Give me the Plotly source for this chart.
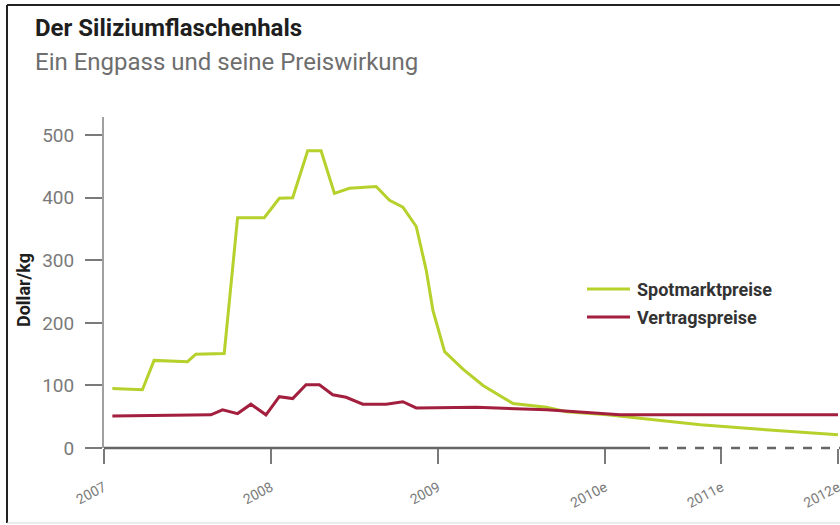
import plotly.graph_objects as go

# --- data -------------------------------------------------------------
# time in decimal years; 2010 onward are estimates ("e")
spot_t = [2007.05, 2007.23, 2007.30, 2007.50, 2007.55, 2007.72, 2007.80, 2007.96,
          2008.05, 2008.13, 2008.22, 2008.30, 2008.38, 2008.47, 2008.63, 2008.71,
          2008.79, 2008.87, 2008.93, 2008.97, 2009.04, 2009.15, 2009.27, 2009.45,
          2009.65, 2009.77, 2010.02, 2010.42, 2010.82, 2011.33, 2012.00]
spot_price = [95, 93, 140, 138, 150, 151, 368, 368,
              399, 400, 475, 475, 407, 415, 418, 396,
              385, 354, 284, 220, 154, 126, 100, 71,
              65, 58, 53, 45, 37, 30, 21]

contract_t = [2007.05, 2007.64, 2007.71, 2007.80, 2007.88, 2007.97, 2008.05, 2008.13,
              2008.21, 2008.29, 2008.37, 2008.45, 2008.55, 2008.69, 2008.79, 2008.87,
              2009.23, 2009.65, 2010.13, 2012.00]
contract_price = [51, 53, 61, 55, 70, 53, 82, 79,
                  101, 101, 85, 81, 70, 70, 74, 64,
                  65, 61, 53, 53]

tick_years = [2007, 2008, 2009, 2010, 2011, 2012]
tick_labels = ["2007", "2008", "2009", "2010e", "2011e", "2012e"]

series_names = ["Spotmarktpreise", "Vertragspreise"]
GREEN = "#b6d02c"
RED = "#a21f3e"
GREY = "#7a7a7a"

# forecast years are drawn on a compressed scale
FORECAST_SCALE = 0.698
FORECAST_FROM = 2010.31   # axis turns dashed from here on


def axis_pos(t):
    if t <= 2010:
        return t - 2007
    return 3 + (t - 2010) * FORECAST_SCALE


# --- layout geometry (pixels of the 840x525 page) ----------------------
W, H = 840, 525
L, R, T, B = 104, 2, 117, 77
PW, PH = W - L - R, H - T - B


def px(x):
    return (x - L) / PW


def py(y):
    return (H - B - y) / PH


x_end = axis_pos(2012)

fig = go.Figure()
fig.add_trace(go.Scatter(
    x=[axis_pos(t) for t in spot_t], y=spot_price, mode="lines",
    name=series_names[0], line=dict(color=GREEN, width=3), showlegend=False))
fig.add_trace(go.Scatter(
    x=[axis_pos(t) for t in contract_t], y=contract_price, mode="lines",
    name=series_names[1], line=dict(color=RED, width=3), showlegend=False))

fig.update_layout(
    width=W, height=H,
    margin=dict(l=L, r=R, t=T, b=B, autoexpand=False),
    paper_bgcolor="white", plot_bgcolor="white",
    xaxis=dict(
        range=[0, x_end], showgrid=False, zeroline=False, showline=False,
        tickmode="array", tickvals=[axis_pos(y) for y in tick_years],
        ticktext=tick_labels, ticks="outside", ticklen=15, tickwidth=2,
        tickcolor=GREY, tickangle=-28, ticklabelstandoff=10,
        ticklabeloverflow="allow",
        tickfont=dict(family="Roboto", size=14, color=GREY),
    ),
    yaxis=dict(
        range=[0, 529], showgrid=False, zeroline=False,
        showline=True, linecolor="#a0a0a0", linewidth=2,
        tickvals=[0, 100, 200, 300, 400, 500], ticks="outside", ticklen=17,
        tickwidth=2, tickcolor=GREY, ticklabelstandoff=7,
        tickfont=dict(family="Roboto", size=19, color=GREY),
    ),
)

x_split = axis_pos(FORECAST_FROM) / x_end
shapes = [
    # x axis: solid for actual data, dashed for the forecast part
    dict(type="line", xref="paper", yref="paper", x0=0, x1=x_split,
         y0=0, y1=0, line=dict(color="#666", width=2.5)),
    dict(type="line", xref="paper", yref="paper", x0=x_split, x1=1.01,
         y0=0, y1=0, line=dict(color="#666", width=2.5, dash="dash")),
    # frame around the graphic
    dict(type="line", xref="paper", yref="paper", x0=px(7), x1=px(7),
         y0=py(5), y1=py(523), line=dict(color="#222", width=2)),
    dict(type="line", xref="paper", yref="paper", x0=px(7), x1=px(845),
         y0=py(5), y1=py(5), line=dict(color="#222", width=2)),
    dict(type="line", xref="paper", yref="paper", x0=px(7), x1=px(845),
         y0=py(523), y1=py(523), line=dict(color="#d8d8d8", width=1)),
    # legend keys
    dict(type="line", xref="paper", yref="paper", x0=px(587), x1=px(630),
         y0=py(289), y1=py(289), line=dict(color=GREEN, width=3)),
    dict(type="line", xref="paper", yref="paper", x0=px(587), x1=px(630),
         y0=py(317), y1=py(317), line=dict(color=RED, width=3)),
]
fig.update_layout(shapes=shapes)

annotations = [
    dict(text="<b>Der Siliziumflaschenhals</b>", x=px(33), y=py(28),
         font=dict(family="Roboto", size=24, color="#1e1e1e")),
    dict(text="Ein Engpass und seine Preiswirkung", x=px(33), y=py(62),
         font=dict(family="Roboto", size=24, color="#6e6e6e")),
    dict(text="<b>" + series_names[0] + "</b>", x=px(635), y=py(289),
         font=dict(family="Roboto", size=18, color="#333")),
    dict(text="<b>" + series_names[1] + "</b>", x=px(635), y=py(317),
         font=dict(family="Roboto", size=18, color="#333")),
]
for a in annotations:
    fig.add_annotation(xref="paper", yref="paper", xanchor="left",
                       yanchor="middle", showarrow=False, **a)

fig.add_annotation(text="<b>Dollar/kg</b>", xref="paper", yref="paper",
                   x=px(23), y=py(290), textangle=-90, showarrow=False,
                   xanchor="center", yanchor="middle",
                   font=dict(family="Roboto", size=18, color="#1e1e1e"))

fig.write_html("out.html")
